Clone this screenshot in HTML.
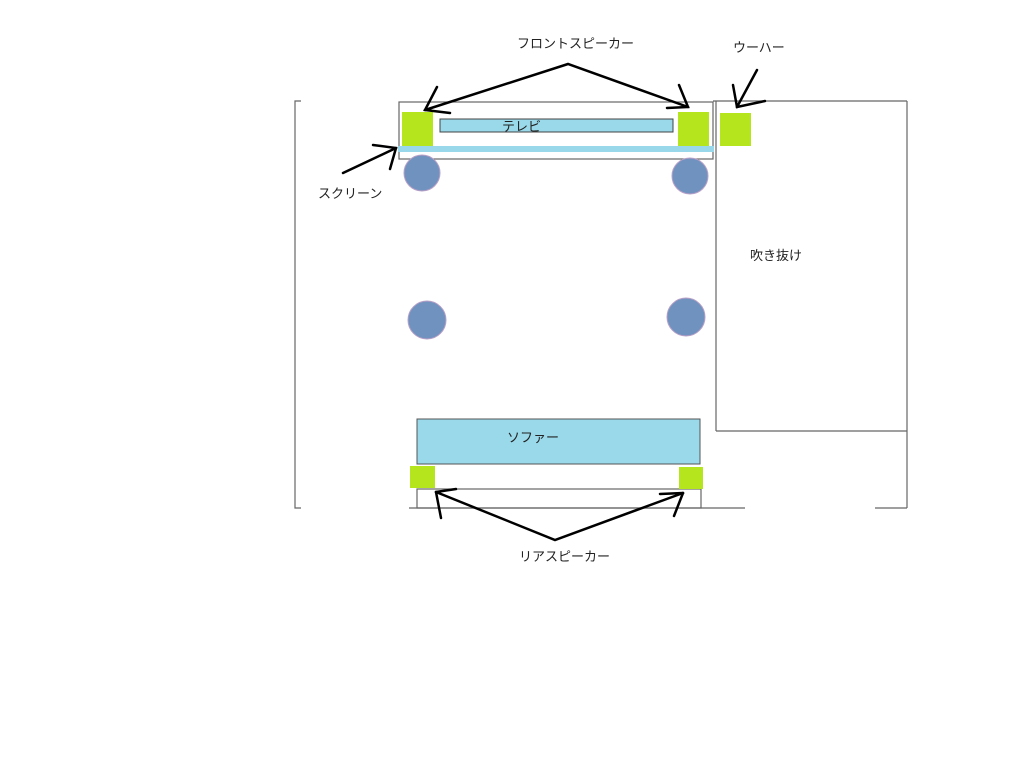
<!DOCTYPE html>
<html><head><meta charset="utf-8"><style>html,body{margin:0;padding:0;background:#fff}svg{display:block}text{font-family:"Liberation Sans","Noto Sans CJK JP",sans-serif;font-size:13px;fill:#222}</style></head><body>
<svg width="1024" height="768" xmlns="http://www.w3.org/2000/svg">
<g stroke="#666" stroke-width="1.2" fill="none">
<polyline points="301,101 295,101 295,508 301,508"/>
<rect x="399" y="102" width="314" height="57"/>
<line x1="713" y1="101" x2="907" y2="101"/>
<line x1="716" y1="101" x2="716" y2="431"/>
<line x1="716" y1="431" x2="907" y2="431"/>
<line x1="907" y1="101" x2="907" y2="508"/>
<line x1="409" y1="508" x2="745" y2="508"/>
<line x1="875" y1="508" x2="907" y2="508"/>
<rect x="417" y="489" width="284" height="19"/>
</g>
<rect x="398" y="146" width="316" height="6" fill="#99d8ea"/>
<rect x="440" y="119" width="233" height="13" fill="#99d9ea" stroke="#444" stroke-width="1"/>
<rect x="417" y="419" width="283" height="45" fill="#99d9ea" stroke="#555" stroke-width="1"/>
<g fill="#b5e61d">
<rect x="402" y="112" width="31" height="34"/>
<rect x="678" y="112" width="31" height="34"/>
<rect x="720" y="113" width="31" height="33"/>
<rect x="410" y="466" width="25" height="22"/>
<rect x="679" y="467" width="24" height="22"/>
</g>
<g fill="#7092be" stroke="#b8a0c8" stroke-width="1">
<circle cx="422" cy="173" r="18"/>
<circle cx="690" cy="176" r="18"/>
<circle cx="427" cy="320" r="19"/>
<circle cx="686" cy="317" r="19"/>
</g>
<g stroke="#000" stroke-width="2.5" fill="none" stroke-linecap="round">
<polyline points="425,110 568,64 688,107"/>
<polyline points="437,87 425,110 450,113"/>
<polyline points="679,85 688,107 667,108"/>
<polyline points="757,70 737,107"/>
<polyline points="733,85 737,107 765,101"/>
<polyline points="343,173 396,148"/>
<polyline points="373,145 396,148 390,169"/>
<polyline points="436,492 555,540 683,493"/>
<polyline points="436,492 441,518"/>
<polyline points="436,492 456,489"/>
<polyline points="683,493 674,516"/>
<polyline points="683,493 660,494"/>
</g>
<text x="517" y="48">フロントスピーカー</text>
<text x="733" y="52">ウーハー</text>
<text x="502" y="131">テレビ</text>
<text x="318" y="198">スクリーン</text>
<text x="750" y="260">吹き抜け</text>
<text x="507" y="442">ソファー</text>
<text x="519" y="561">リアスピーカー</text>
</svg>
</body></html>
